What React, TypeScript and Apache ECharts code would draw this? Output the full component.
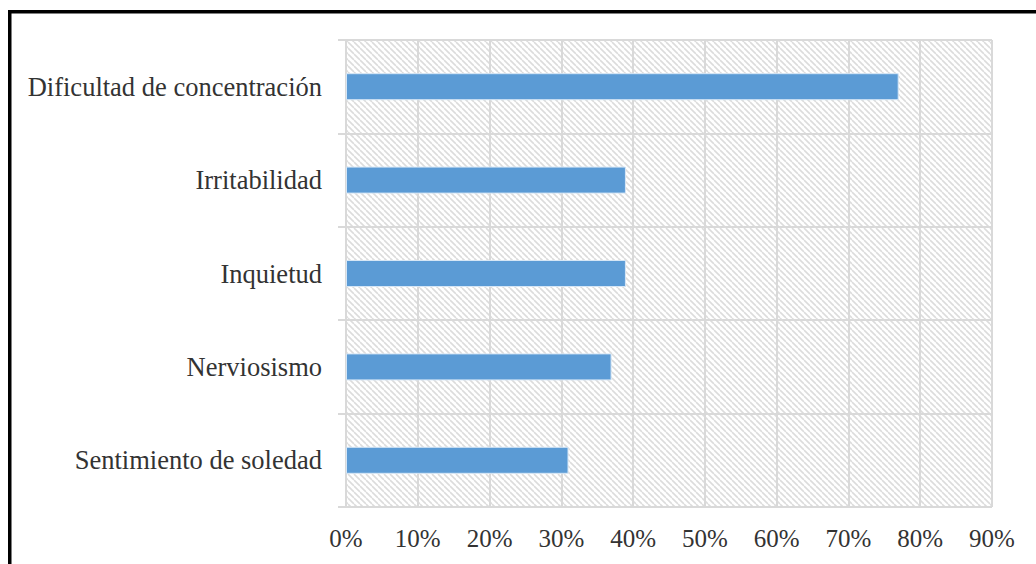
import React, { useEffect, useRef } from "react";
import * as echarts from "echarts";

// Symptoms, listed top to bottom
const categories = [
  "Dificultad de concentración",
  "Irritabilidad",
  "Inquietud",
  "Nerviosismo",
  "Sentimiento de soledad",
];
// Share of respondents reporting each symptom
const values = [0.77, 0.39, 0.39, 0.37, 0.31];
// Percentage axis
const axisMin = 0;
const axisMax = 0.9;
const axisStep = 0.1;

const FONT = "Liberation Serif";

// Light diagonal hatch tile used as the plot-area background
function makeHatch(size: number): HTMLCanvasElement {
  const c = document.createElement("canvas");
  c.width = size;
  c.height = size;
  const ctx = c.getContext("2d")!;
  ctx.fillStyle = "#ffffff";
  ctx.fillRect(0, 0, size, size);
  ctx.strokeStyle = "#dcdcdc";
  ctx.lineWidth = 1.6;
  for (const k of [-size, 0, size]) {
    ctx.beginPath();
    ctx.moveTo(k, 0);
    ctx.lineTo(k + size, size);
    ctx.stroke();
  }
  return c;
}

export default function App() {
  const ref = useRef<HTMLDivElement>(null);

  useEffect(() => {
    if (!ref.current) return;
    const chart = echarts.init(ref.current, undefined, { renderer: "svg" });
    const tile = 6;
    const hatch = makeHatch(tile);

    chart.setOption({
      animation: false,
      backgroundColor: "#ffffff",
      grid: {
        left: 346,
        right: 44,
        top: 40,
        bottom: 57,
        show: true,
        borderWidth: 0,
        backgroundColor: {
          image: hatch,
          repeat: "repeat",
          imageWidth: tile,
          imageHeight: tile,
        } as any,
      },
      xAxis: {
        type: "value",
        min: axisMin,
        max: axisMax,
        interval: axisStep,
        axisLine: { show: false },
        axisTick: { show: false },
        splitLine: { show: true, lineStyle: { color: "#d9d9d9", width: 2 } },
        axisLabel: {
          fontFamily: FONT,
          fontSize: 25,
          color: "#333333",
          margin: 19,
          formatter: (v: number) => `${Math.round(v * 100)}%`,
        },
      },
      yAxis: {
        type: "category",
        data: categories,
        inverse: true,
        axisLine: { show: true, lineStyle: { color: "#d9d9d9", width: 2 } },
        axisTick: { show: true, length: 8, lineStyle: { color: "#d9d9d9", width: 2 } },
        splitLine: { show: true, lineStyle: { color: "#d9d9d9", width: 2 } },
        axisLabel: {
          fontFamily: FONT,
          fontSize: 26.5,
          color: "#333333",
          margin: 24,
        },
      },
      series: [
        {
          type: "bar",
          data: values,
          barWidth: 27,
          itemStyle: {
            color: "#5b9bd5",
            borderColor: "#d6e6f5",
            borderWidth: 1,
          },
        },
      ],
      graphic: [
        {
          type: "rect",
          silent: true,
          shape: { x: 9.75, y: 11.75, width: 1200, height: 700 },
          style: { fill: "none", stroke: "#000000", lineWidth: 3.5 },
        },
      ],
    });

    return () => chart.dispose();
  }, []);

  return (
    <div
      ref={ref}
      style={{ position: "fixed", left: 0, top: 0, width: 1036, height: 564 }}
    />
  );
}
